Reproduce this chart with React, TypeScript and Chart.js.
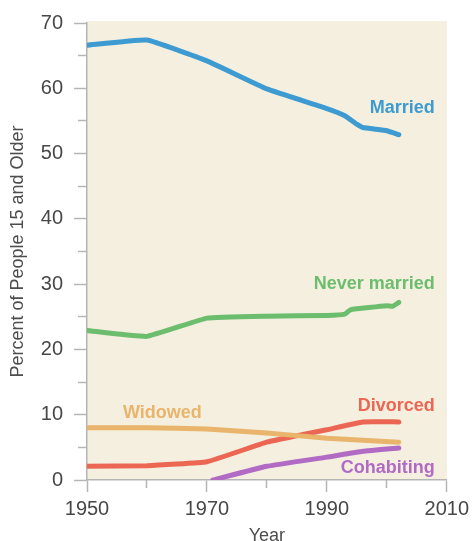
import React, { useEffect, useRef } from "react";
import { Chart, registerables } from "chart.js";

Chart.register(...registerables);

const marriedYears = [1950, 1960, 1970, 1980, 1990, 1993, 1995, 1996, 2000, 2002];
const marriedValues = [66.6, 67.4, 64.2, 59.9, 56.9, 55.8, 54.5, 54.0, 53.5, 52.9];

const neverYears = [1950, 1960, 1970, 1980, 1990, 1993, 1994, 2000, 2001, 2002];
const neverValues = [22.9, 22.0, 24.8, 25.1, 25.2, 25.4, 26.1, 26.7, 26.6, 27.2];

const widowedYears = [1950, 1960, 1970, 1980, 1990, 2002];
const widowedValues = [8.0, 8.0, 7.8, 7.2, 6.4, 5.8];

const divorcedYears = [1950, 1960, 1970, 1980, 1990, 1996, 2002];
const divorcedValues = [2.1, 2.2, 2.8, 5.8, 7.7, 8.9, 8.9];

const cohabYears = [1971, 1980, 1990, 1996, 2002];
const cohabValues = [0.0, 2.1, 3.5, 4.4, 4.9];

const seriesNames = ["Married", "Never married", "Widowed", "Divorced", "Cohabiting"];
const seriesColors = ["#3d9bd2", "#6dbd6f", "#e9b46c", "#ec6654", "#b16bc5"];

const labelYears = [2008, 2008, 1956, 2008, 2008];
const labelValues = [57.0, 30.0, 10.2, 11.4, 1.8];
const labelAligns = ["right", "right", "left", "right", "right"];

const xTickLabels = ["1950", "1970", "1990", "2010"];

const FONT = '"Liberation Sans", Arial, sans-serif';

function pts(xs: number[], ys: number[]) {
  return xs.map((x, i) => ({ x, y: ys[i] }));
}

const bgPlugin = {
  id: "plotBg",
  beforeDraw(chart: any) {
    const { ctx, chartArea } = chart;
    ctx.save();
    ctx.fillStyle = "#f4efde";
    ctx.fillRect(chartArea.left, chartArea.top - 2, chartArea.right - chartArea.left, chartArea.bottom - chartArea.top + 2);
    ctx.restore();
  },
};

const labelPlugin = {
  id: "seriesLabels",
  afterDatasetsDraw(chart: any) {
    const { ctx } = chart;
    const xs = chart.scales.x;
    const ys = chart.scales.y;
    ctx.save();
    ctx.font = "bold 18px " + FONT;
    ctx.textBaseline = "middle";
    seriesNames.forEach((name, i) => {
      ctx.fillStyle = seriesColors[i];
      ctx.textAlign = labelAligns[i];
      ctx.fillText(name, xs.getPixelForValue(labelYears[i]), ys.getPixelForValue(labelValues[i]));
    });
    ctx.restore();
  },
};

export default function App() {
  const ref = useRef<HTMLCanvasElement>(null);
  useEffect(() => {
    if (!ref.current) return;
    const yearsList = [marriedYears, neverYears, widowedYears, divorcedYears, cohabYears];
    const valuesList = [marriedValues, neverValues, widowedValues, divorcedValues, cohabValues];
    const chart = new Chart(ref.current, {
      type: "line",
      data: {
        datasets: seriesNames.map((name, i) => ({
          label: name,
          data: pts(yearsList[i], valuesList[i]),
          borderColor: seriesColors[i],
          backgroundColor: seriesColors[i],
          borderWidth: 5,
          pointRadius: 0,
          tension: 0.1,
          borderCapStyle: "round",
          borderJoinStyle: "round",
          fill: false,
        })),
      },
      options: {
        animation: false,
        responsive: false,
        devicePixelRatio: 1,
        layout: { padding: { top: 22, right: 22, left: 0, bottom: 0 } },
        plugins: { legend: { display: false }, tooltip: { enabled: false } },
        scales: {
          x: {
            type: "linear",
            position: "bottom",
            min: 1950,
            max: 2010,
            weight: 0,
            afterBuildTicks: (s: any) => {
              s.ticks = xTickLabels.map((t) => ({ value: Number(t) }));
            },
            afterFit: (s: any) => {
              s.height = 61;
            },
            ticks: {
              color: "#474747",
              font: { family: FONT, size: 20 },
              padding: 5,
              maxRotation: 0,
              autoSkip: false,
              callback: (v: any) => String(v),
            },
            grid: { drawOnChartArea: false, tickLength: 12, tickColor: "#b5b5b5", tickWidth: 1.5 },
            border: { color: "#b5b5b5", width: 1.5 },
            title: {
              display: true,
              text: "Year",
              color: "#4d4d4d",
              font: { family: FONT, size: 18, lineHeight: 0.6 },
              padding: { top: 0, bottom: 0 },
            },
          },
          xMinor: {
            type: "linear",
            position: "bottom",
            min: 1950,
            max: 2010,
            weight: -1,
            afterBuildTicks: (s: any) => {
              s.ticks = [1960, 1980, 2000].map((v) => ({ value: v }));
            },
            afterFit: (s: any) => {
              s.height = 0;
            },
            ticks: { display: false },
            grid: { drawOnChartArea: false, tickLength: 8, tickColor: "#b5b5b5", tickWidth: 1.5 },
            border: { display: false },
          },
          y: {
            type: "linear",
            position: "left",
            min: 0,
            max: 70,
            weight: 0,
            afterFit: (s: any) => {
              s.width = 87;
            },
            ticks: {
              stepSize: 10,
              color: "#474747",
              font: { family: FONT, size: 20 },
              padding: 11,
            },
            grid: { drawOnChartArea: false, tickLength: 13, tickColor: "#b5b5b5", tickWidth: 1.5 },
            border: { color: "#b5b5b5", width: 1.5 },
            title: {
              display: true,
              text: "Percent of People 15 and Older",
              color: "#4d4d4d",
              font: { family: FONT, size: 18, lineHeight: 1.2 },
              padding: { top: 7, bottom: 0 },
            },
          },
          yMinor: {
            type: "linear",
            position: "left",
            min: 0,
            max: 70,
            weight: -1,
            afterBuildTicks: (s: any) => {
              s.ticks = [5, 15, 25, 35, 45, 55, 65].map((v) => ({ value: v }));
            },
            afterFit: (s: any) => {
              s.width = 0;
            },
            ticks: { display: false },
            grid: { drawOnChartArea: false, tickLength: 9, tickColor: "#b5b5b5", tickWidth: 1.5 },
            border: { display: false },
          },
        },
      },
      plugins: [bgPlugin, labelPlugin],
    } as any);
    return () => chart.destroy();
  }, []);
  return (
    <div style={{ position: "fixed", left: 0, top: 0, width: 474, height: 541, background: "#ffffff" }}>
      <canvas ref={ref} width={474} height={541} style={{ display: "block", width: 474, height: 541 }} />
    </div>
  );
}
